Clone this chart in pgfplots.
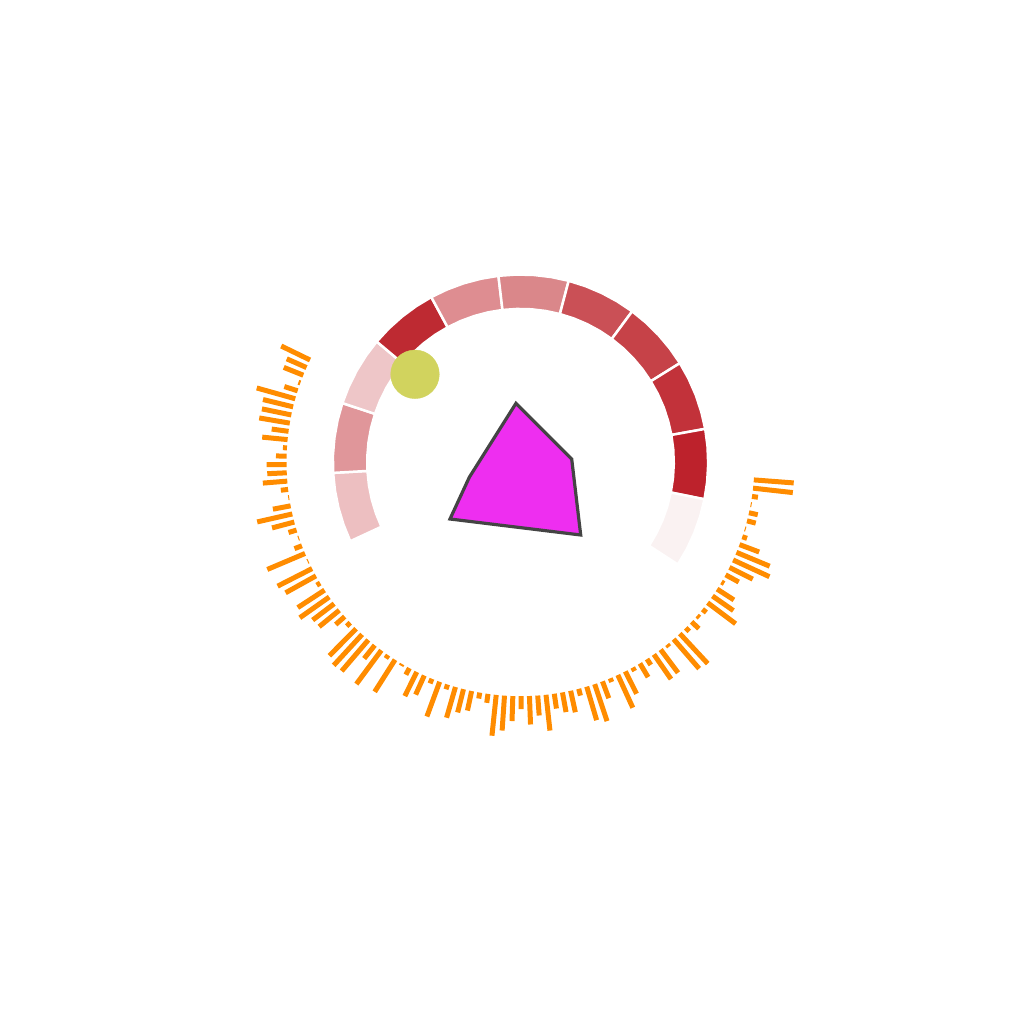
\documentclass[border=0pt]{standalone}
\usepackage{pgfplots}
\pgfplotsset{compat=1.18}
\usepackage{pgfplotstable}
\definecolor{sA}{HTML}{EDBFC1}
\definecolor{sB}{HTML}{E0969A}
\definecolor{sC}{HTML}{EEC6C8}
\definecolor{sD}{HTML}{BE2A32}
\definecolor{sE}{HTML}{DE8D91}
\definecolor{sF}{HTML}{DA878A}
\definecolor{sG}{HTML}{CA5056}
\definecolor{sH}{HTML}{C64248}
\definecolor{sI}{HTML}{C2323A}
\definecolor{sJ}{HTML}{BD222C}
\definecolor{sK}{HTML}{FAF2F2}
\definecolor{barorange}{HTML}{FF8C00}
\definecolor{poly}{HTML}{EE2EF0}
\definecolor{polyedge}{HTML}{444444}
\definecolor{dot}{HTML}{D1D35E}
% radial bars: angle (deg), radius (px); nan separates bars
\pgfplotstableread{
a r
154.10 234
154.10 266
154.10 nan
156.14 234
156.14 255.6
156.14 nan
158.17 234
158.17 255
158.17 nan
160.21 234
160.21 236
160.21 nan
162.24 234
162.24 248
162.24 nan
164.28 234
164.28 274
164.28 nan
166.32 234
166.32 265
166.32 nan
168.35 234
168.35 264
168.35 nan
170.39 234
170.39 265
170.39 nan
172.42 234
172.42 251
172.42 nan
174.46 234
174.46 259.5
174.46 nan
176.50 234
176.50 238
176.50 nan
178.53 234
178.53 244.6
178.53 nan
180.57 234
180.57 254
180.57 nan
182.60 234
182.60 253.5
182.60 nan
184.64 234
184.64 258.5
184.64 nan
186.68 234
186.68 241.3
186.68 nan
188.71 234
188.71 235
188.71 nan
190.75 234
190.75 252
190.75 nan
192.78 234
192.78 270
192.78 nan
194.82 234
194.82 257
194.82 nan
196.86 234
196.86 242.4
196.86 nan
198.89 234
198.89 235
198.89 nan
200.93 234
200.93 242
200.93 nan
202.96 234
202.96 275
202.96 nan
205.00 234
205.00 235
205.00 nan
207.04 234
207.04 272.7
207.04 nan
209.07 234
209.07 268.8
209.07 nan
211.11 234
211.11 238
211.11 nan
213.14 234
213.14 266
213.14 nan
215.18 234
215.18 270
215.18 nan
217.22 234
217.22 261
217.22 nan
219.25 234
219.25 260
219.25 nan
221.29 234
221.29 246
221.29 nan
223.32 234
223.32 239
223.32 nan
225.36 234
225.36 272
225.36 nan
227.40 234
227.40 276
227.40 nan
229.43 234
229.43 275
229.43 nan
231.47 234
231.47 251
231.47 nan
233.50 234
233.50 276
233.50 nan
235.54 234
235.54 238
235.54 nan
237.58 234
237.58 272
237.58 nan
239.61 234
239.61 236
239.61 nan
241.65 234
241.65 241.5
241.65 nan
243.68 234
243.68 261
243.68 nan
245.72 234
245.72 255
245.72 nan
247.76 234
247.76 239
247.76 nan
249.79 234
249.79 271
249.79 nan
251.83 234
251.83 239
251.83 nan
253.86 234
253.86 266
253.86 nan
255.90 234
255.90 258
255.90 nan
257.94 234
257.94 254
257.94 nan
259.97 234
259.97 240
259.97 nan
262.01 234
262.01 243
262.01 nan
264.04 234
264.04 275
264.04 nan
266.08 234
266.08 269
266.08 nan
268.12 234
268.12 259
268.12 nan
270.15 234
270.15 247
270.15 nan
272.19 234
272.19 262.5
272.19 nan
274.22 234
274.22 254
274.22 nan
276.26 234
276.26 270
276.26 nan
278.30 234
278.30 249
278.30 nan
280.33 234
280.33 254
280.33 nan
282.37 234
282.37 256
282.37 nan
284.40 234
284.40 241
284.40 nan
286.44 234
286.44 269
286.44 nan
288.48 234
288.48 273
288.48 nan
290.51 234
290.51 252
290.51 nan
292.55 234
292.55 238
292.55 nan
294.58 234
294.58 270
294.58 nan
296.62 234
296.62 259
296.62 nan
298.66 234
298.66 238
298.66 nan
300.69 234
300.69 250
300.69 nan
302.73 234
302.73 241
302.73 nan
304.76 234
304.76 264
304.76 nan
306.80 234
306.80 263
306.80 nan
308.84 234
308.84 237
308.84 nan
310.87 234
310.87 273
310.87 nan
312.91 234
312.91 275
312.91 nan
314.94 234
314.94 239
314.94 nan
316.98 234
316.98 244
316.98 nan
319.02 234
319.02 237
319.02 nan
321.05 234
321.05 239
321.05 nan
323.09 234
323.09 269
323.09 nan
325.12 234
325.12 259.5
325.12 nan
327.16 234
327.16 254
327.16 nan
329.20 234
329.20 237
329.20 nan
331.23 234
331.23 249
331.23 nan
333.27 234
333.27 260
333.27 nan
335.30 234
335.30 274
335.30 nan
337.34 234
337.34 270
337.34 nan
339.38 234
339.38 255
339.38 nan
341.41 234
341.41 239
341.41 nan
343.45 234
343.45 235
343.45 nan
345.48 234
345.48 243
345.48 nan
347.52 234
347.52 243
347.52 nan
349.56 234
349.56 235
349.56 nan
351.59 234
351.59 240
351.59 nan
353.63 234
353.63 274
353.63 nan
355.66 234
355.66 274
355.66 nan
}\bars
\begin{document}
\begin{tikzpicture}
\begin{axis}[width=1024pt,height=1024pt,scale only axis,
  xmin=-520.5,xmax=503.5,ymin=-561.8,ymax=462.2,
  hide axis, unbounded coords=jump]
% frame corners for bounding box
\addplot[draw=none] coordinates {(-520.5,-561.8) (503.5,462.2)};
% ring segments (angle, radius): outer edge then inner edge
\addplot[data cs=polar, fill=sA, draw=white, line width=2.5pt] coordinates {(204.90,187.7) (199.49,187.7) (194.09,187.7) (188.68,187.7) (183.27,187.7) (183.27,153.3) (188.68,153.3) (194.09,153.3) (199.49,153.3) (204.90,153.3)} -- cycle;
\addplot[data cs=polar, fill=sB, draw=white, line width=2.5pt] coordinates {(183.27,187.7) (177.86,187.7) (172.46,187.7) (167.05,187.7) (161.64,187.7) (161.64,153.3) (167.05,153.3) (172.46,153.3) (177.86,153.3) (183.27,153.3)} -- cycle;
\addplot[data cs=polar, fill=sC, draw=white, line width=2.5pt] coordinates {(161.64,187.7) (156.23,187.7) (150.83,187.7) (145.42,187.7) (140.01,187.7) (140.01,153.3) (145.42,153.3) (150.83,153.3) (156.23,153.3) (161.64,153.3)} -- cycle;
\addplot[data cs=polar, fill=sD, draw=white, line width=2.5pt] coordinates {(140.01,187.7) (134.60,187.7) (129.20,187.7) (123.79,187.7) (118.38,187.7) (118.38,153.3) (123.79,153.3) (129.20,153.3) (134.60,153.3) (140.01,153.3)} -- cycle;
\addplot[data cs=polar, fill=sE, draw=white, line width=2.5pt] coordinates {(118.38,187.7) (112.97,187.7) (107.57,187.7) (102.16,187.7) (96.75,187.7) (96.75,153.3) (102.16,153.3) (107.57,153.3) (112.97,153.3) (118.38,153.3)} -- cycle;
\addplot[data cs=polar, fill=sF, draw=white, line width=2.5pt] coordinates {(96.75,187.7) (91.34,187.7) (85.94,187.7) (80.53,187.7) (75.12,187.7) (75.12,153.3) (80.53,153.3) (85.94,153.3) (91.34,153.3) (96.75,153.3)} -- cycle;
\addplot[data cs=polar, fill=sG, draw=white, line width=2.5pt] coordinates {(75.12,187.7) (69.71,187.7) (64.31,187.7) (58.90,187.7) (53.49,187.7) (53.49,153.3) (58.90,153.3) (64.31,153.3) (69.71,153.3) (75.12,153.3)} -- cycle;
\addplot[data cs=polar, fill=sH, draw=white, line width=2.5pt] coordinates {(53.49,187.7) (48.08,187.7) (42.68,187.7) (37.27,187.7) (31.86,187.7) (31.86,153.3) (37.27,153.3) (42.68,153.3) (48.08,153.3) (53.49,153.3)} -- cycle;
\addplot[data cs=polar, fill=sI, draw=white, line width=2.5pt] coordinates {(31.86,187.7) (26.45,187.7) (21.05,187.7) (15.64,187.7) (10.23,187.7) (10.23,153.3) (15.64,153.3) (21.05,153.3) (26.45,153.3) (31.86,153.3)} -- cycle;
\addplot[data cs=polar, fill=sJ, draw=white, line width=2.5pt] coordinates {(10.23,187.7) (4.82,187.7) (-0.59,187.7) (-6.00,187.7) (-11.40,187.7) (-11.40,153.3) (-6.00,153.3) (-0.59,153.3) (4.82,153.3) (10.23,153.3)} -- cycle;
\addplot[data cs=polar, fill=sK, draw=white, line width=2.5pt] coordinates {(-11.40,187.7) (-16.81,187.7) (-22.21,187.7) (-27.62,187.7) (-33.03,187.7) (-33.03,153.3) (-27.62,153.3) (-22.21,153.3) (-16.81,153.3) (-11.40,153.3)} -- cycle;
% radial orange bars
\addplot[data cs=polar, draw=barorange, line width=5pt, line cap=butt, mark=none] table[x=a,y=r] {\bars};
% dot
\addplot[only marks, mark=*, mark size=24.3pt, color=dot, mark options={draw=none, fill=dot}] coordinates {(-105.5,87.9)};
% polygon
\addplot[fill=poly, draw=polyedge, line width=3.2pt, line join=miter] coordinates {(-4.5,58.9) (51.2,3.2) (60.2,-72.8) (-70.5,-56.8) (-51.2,-15.1)} -- cycle;
\end{axis}
\end{tikzpicture}
\end{document}
